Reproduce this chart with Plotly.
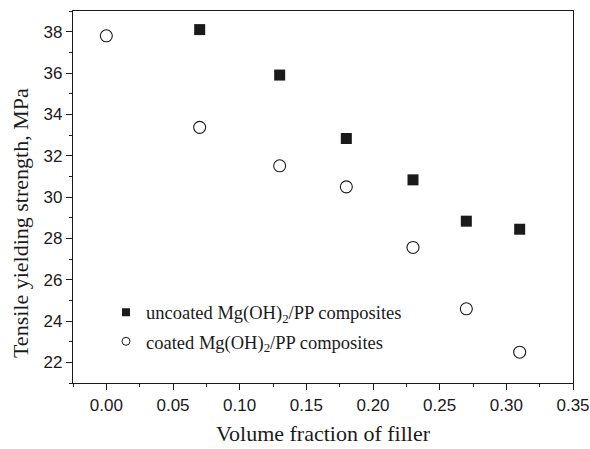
import plotly.graph_objects as go

x_uncoated = [0.07, 0.13, 0.18, 0.23, 0.27, 0.31]
y_uncoated = [38.1, 35.9, 32.83, 30.83, 28.83, 28.44]
x_coated = [0.00, 0.07, 0.13, 0.18, 0.23, 0.27, 0.31]
y_coated = [37.8, 33.37, 31.51, 30.49, 27.56, 24.59, 22.49]
names = ["uncoated Mg(OH)<sub>2</sub>/PP composites",
         "coated Mg(OH)<sub>2</sub>/PP composites"]

serif = "Liberation Serif, Times New Roman, serif"
sans = "Liberation Sans, Arial, sans-serif"
ink = "#1a1a1a"

fig = go.Figure()
fig.add_trace(go.Scatter(
    x=x_uncoated, y=y_uncoated, mode="markers", showlegend=False,
    marker=dict(symbol="square", size=11, color=ink, line=dict(width=0))))
fig.add_trace(go.Scatter(
    x=x_coated, y=y_coated, mode="markers", showlegend=False,
    marker=dict(symbol="circle-open", size=12, color=ink, line=dict(width=1.1))))
# legend entries (smaller symbols, as in the reference)
fig.add_trace(go.Scatter(
    x=[None], y=[None], mode="markers", name=names[0], legendgroup="a",
    marker=dict(symbol="square", size=8, color=ink, line=dict(width=0))))
fig.add_trace(go.Scatter(
    x=[None], y=[None], mode="markers", name=names[1], legendgroup="b",
    marker=dict(symbol="circle-open", size=8, color=ink, line=dict(width=1))))

axis_common = dict(showline=True, linecolor=ink, linewidth=1.3, mirror=True,
                   showgrid=False, zeroline=False, ticks="outside", ticklen=6,
                   tickwidth=1.2, tickcolor=ink, automargin=False,
                   tickfont=dict(family=sans, size=17, color=ink))

fig.update_xaxes(range=[-0.025, 0.35], tick0=0, dtick=0.05, tickformat=".2f",
                 ticklabeloverflow="allow",
                 minor=dict(ticks="outside", ticklen=3, dtick=0.025, tick0=0, tickcolor=ink),
                 **axis_common)
fig.update_yaxes(range=[21, 39], tick0=22, dtick=2,
                 minor=dict(ticks="outside", ticklen=3, dtick=1, tick0=21, tickcolor=ink),
                 **axis_common)

fig.add_annotation(text="Volume fraction of filler", xref="paper", yref="paper",
                   x=0.5, y=-0.135, xanchor="center", yanchor="middle", showarrow=False,
                   font=dict(family=serif, size=22, color=ink))
fig.add_annotation(text="Tensile yielding strength, MPa", xref="paper", yref="paper",
                   x=-0.106, y=0.43, xanchor="center", yanchor="middle", showarrow=False,
                   textangle=-90, font=dict(family=serif, size=22, color=ink))

fig.update_layout(
    width=590, height=449,
    margin=dict(l=73, r=17, t=11, b=66),
    plot_bgcolor="white", paper_bgcolor="white",
    legend=dict(x=0.066, y=0.24, xanchor="left", yanchor="top",
                font=dict(family=serif, size=18.5, color=ink),
                bgcolor="rgba(0,0,0,0)", tracegroupgap=2),
)

fig.write_html("out.html", config={"displayModeBar": False},
               post_script="document.body.style.margin='0';document.body.style.overflow='hidden';")
